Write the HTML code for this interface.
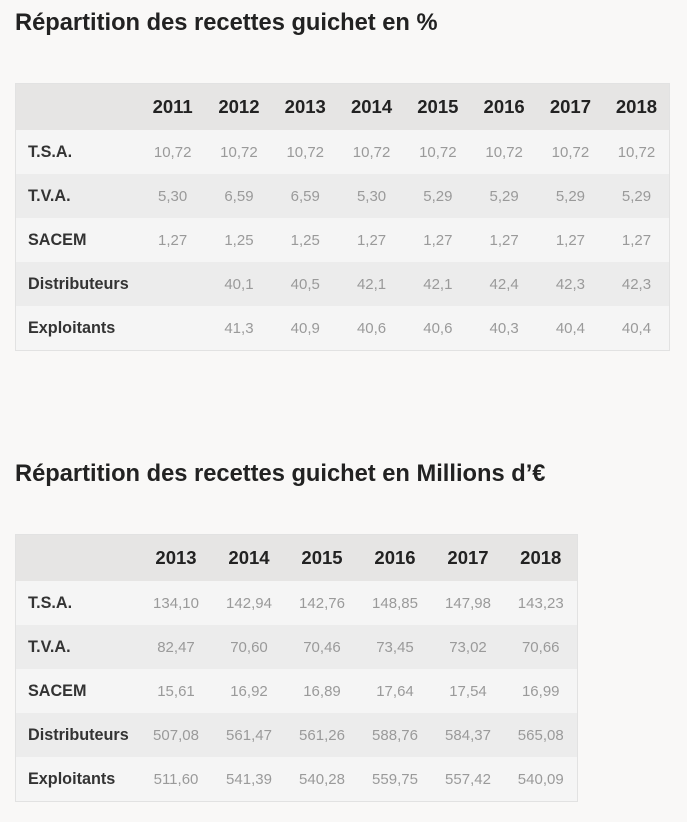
<!DOCTYPE html>
<html><head><meta charset="utf-8"><style>
body{margin:0;background:#f9f8f7;font-family:"Liberation Sans",sans-serif;width:687px;height:822px;overflow:hidden;position:relative}
h2{position:absolute;left:15px;margin:0;font-size:23.7px;font-weight:bold;color:#222}
table{position:absolute;left:15px;border-collapse:collapse;table-layout:fixed;border:1px solid #e2e2e2}
td,th{padding:0;height:44px;text-align:center;font-size:15px}
th{height:46px;background:#e6e5e4;font-size:18.5px;color:#222}
td{color:#9a9a9a}
td:first-child{text-align:left;padding-left:12px;font-weight:bold;color:#333;font-size:16.2px}
tr:nth-child(even) td{background:#f5f5f5}
tr:nth-child(odd) td{background:#ececec}
</style></head><body>
<h2 style="top:10px">Répartition des recettes guichet en %</h2>
<table style="top:83px;width:655px">
<colgroup><col style="width:124px"><col span="8" style="width:66.3px"></colgroup>
<tr><th></th><th>2011</th><th>2012</th><th>2013</th><th>2014</th><th>2015</th><th>2016</th><th>2017</th><th>2018</th></tr>
<tr><td>T.S.A.</td><td>10,72</td><td>10,72</td><td>10,72</td><td>10,72</td><td>10,72</td><td>10,72</td><td>10,72</td><td>10,72</td></tr>
<tr><td>T.V.A.</td><td>5,30</td><td>6,59</td><td>6,59</td><td>5,30</td><td>5,29</td><td>5,29</td><td>5,29</td><td>5,29</td></tr>
<tr><td>SACEM</td><td>1,27</td><td>1,25</td><td>1,25</td><td>1,27</td><td>1,27</td><td>1,27</td><td>1,27</td><td>1,27</td></tr>
<tr><td>Distributeurs</td><td></td><td>40,1</td><td>40,5</td><td>42,1</td><td>42,1</td><td>42,4</td><td>42,3</td><td>42,3</td></tr>
<tr><td>Exploitants</td><td></td><td>41,3</td><td>40,9</td><td>40,6</td><td>40,6</td><td>40,3</td><td>40,4</td><td>40,4</td></tr>
</table>
<h2 style="top:461px">Répartition des recettes guichet en Millions d’€</h2>
<table style="top:534px;width:563px">
<colgroup><col style="width:124px"><col span="6" style="width:73px"></colgroup>
<tr><th></th><th>2013</th><th>2014</th><th>2015</th><th>2016</th><th>2017</th><th>2018</th></tr>
<tr><td>T.S.A.</td><td>134,10</td><td>142,94</td><td>142,76</td><td>148,85</td><td>147,98</td><td>143,23</td></tr>
<tr><td>T.V.A.</td><td>82,47</td><td>70,60</td><td>70,46</td><td>73,45</td><td>73,02</td><td>70,66</td></tr>
<tr><td>SACEM</td><td>15,61</td><td>16,92</td><td>16,89</td><td>17,64</td><td>17,54</td><td>16,99</td></tr>
<tr><td>Distributeurs</td><td>507,08</td><td>561,47</td><td>561,26</td><td>588,76</td><td>584,37</td><td>565,08</td></tr>
<tr><td>Exploitants</td><td>511,60</td><td>541,39</td><td>540,28</td><td>559,75</td><td>557,42</td><td>540,09</td></tr>
</table>
</body></html>
